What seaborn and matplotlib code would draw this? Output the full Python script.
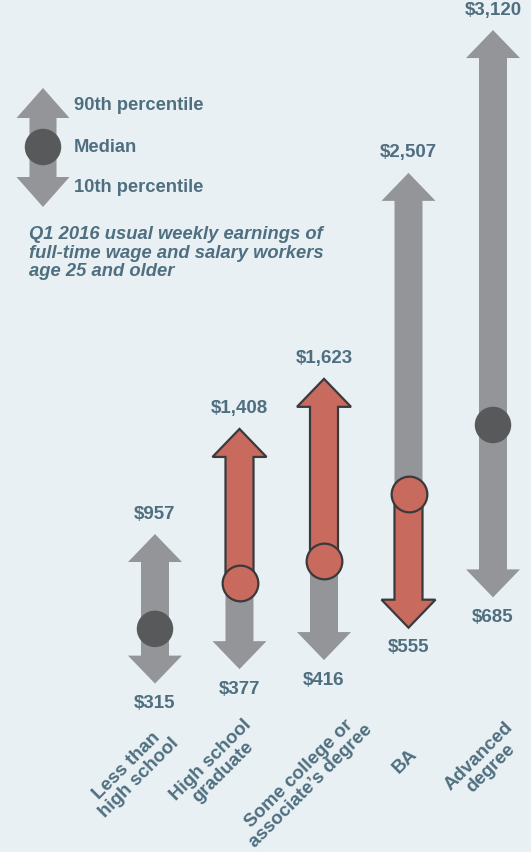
import numpy as np
import pandas as pd
import matplotlib
matplotlib.use("Agg")
import matplotlib.pyplot as plt
from matplotlib.patches import Polygon
import seaborn as sns

# ---------------- data ----------------
categories = ["Less than\nhigh school", "High school\ngraduate",
              "Some college or\nassociate\u2019s degree", "BA", "Advanced\ndegree"]
p10 = [315, 377, 416, 555, 685]
median = [550, 745, 840, 1130, 1425]
p90 = [957, 1408, 1623, 2507, 3120]
top_labels = ["$957", "$1,408", "$1,623", "$2,507", "$3,120"]
bottom_labels = ["$315", "$377", "$416", "$555", "$685"]
highlight = ["", "up", "up", "down", ""]

# ---------------- style / layout ----------------
BG = "#e8f0f4"
GRAY = "#949599"
DARK = "#58595b"
RED = "#c86a5e"
EDGE = "#3a3a3c"
TXT = "#4f6f80"
# centres (pixels from top-left) of the rotated category labels
label_centers_px = [(133, 772), (217, 766), (305, 780), (405, 761), (485, 762)]

sns.set_theme(style="white", rc={"axes.facecolor": BG, "figure.facecolor": BG})
plt.rcParams["font.family"] = ["Liberation Sans", "DejaVu Sans"]

W, H = 531, 852
fig = plt.figure(figsize=(W / 100, H / 100), dpi=100)
ax = fig.add_axes([0, 0, 1, 1])
ax.set_facecolor(BG)

# scale: pixel -> data
X0, DX = 155.0, 84.5          # pixel x of first category, spacing
Y0, PPV = 757.0, 0.233        # pixel y of value 0, pixels per dollar


def xd(px):
    return (px - X0) / DX


def yd(py):
    return (Y0 - py) / PPV


df = pd.DataFrame({"cat": categories, "pos": np.arange(len(categories)),
                   "lo": p10, "med": median, "hi": p90, "hl": highlight})

SW = 28 / DX
HW = 54 / DX
HL = 28 / PPV


def double_arrow(x, lo, hi, sw=SW, hw=HW, hl=HL):
    return [(x - sw / 2, lo + hl), (x - hw / 2, lo + hl), (x, lo), (x + hw / 2, lo + hl),
            (x + sw / 2, lo + hl), (x + sw / 2, hi - hl), (x + hw / 2, hi - hl), (x, hi),
            (x - hw / 2, hi - hl), (x - sw / 2, hi - hl)]


def up_arrow(x, start, hi):
    return [(x - SW / 2, start), (x + SW / 2, start), (x + SW / 2, hi - HL), (x + HW / 2, hi - HL),
            (x, hi), (x - HW / 2, hi - HL), (x - SW / 2, hi - HL)]


def down_arrow(x, start, lo):
    return [(x - SW / 2, start), (x + SW / 2, start), (x + SW / 2, lo + HL), (x + HW / 2, lo + HL),
            (x, lo), (x - HW / 2, lo + HL), (x - SW / 2, lo + HL)]


for _, r in df.iterrows():
    ax.add_patch(Polygon(double_arrow(r["pos"], r["lo"], r["hi"]), closed=True,
                         facecolor=GRAY, edgecolor="none", zorder=2))
    if r["hl"] == "up":
        ax.add_patch(Polygon(up_arrow(r["pos"], r["med"], r["hi"]), closed=True,
                             facecolor=RED, edgecolor=EDGE, linewidth=1.6,
                             joinstyle="miter", zorder=3))
    elif r["hl"] == "down":
        ax.add_patch(Polygon(down_arrow(r["pos"], r["med"], r["lo"]), closed=True,
                             facecolor=RED, edgecolor=EDGE, linewidth=1.6,
                             joinstyle="miter", zorder=3))

plain = df[df["hl"] == ""]
hot = df[df["hl"] != ""]
sns.scatterplot(data=plain, x="pos", y="med", ax=ax, s=690, color=DARK,
                edgecolor="none", linewidth=0, zorder=5, legend=False)
sns.scatterplot(data=hot, x="pos", y="med", ax=ax, s=660, color=RED,
                edgecolor=EDGE, linewidth=1.6, zorder=5, legend=False)
ax.set_xlim(xd(0), xd(W))
ax.set_ylim(yd(H), yd(0))
ax.axis("off")

# value labels
for i, r in df.iterrows():
    ax.annotate(top_labels[i], (r["pos"], r["hi"]), xytext=(0, 20), textcoords="offset pixels",
                ha="center", va="center", fontsize=13.5, fontweight="bold", color=TXT, zorder=6)
    ax.annotate(bottom_labels[i], (r["pos"], r["lo"]), xytext=(0, -20), textcoords="offset pixels",
                ha="center", va="center", fontsize=13.5, fontweight="bold", color=TXT, zorder=6)

# category labels (rotated)
for i, r in df.iterrows():
    cx, cy = label_centers_px[i]
    ax.text(xd(cx), yd(cy), r["cat"], rotation=45, rotation_mode="anchor",
            ha="center", va="center", multialignment="center",
            fontsize=13.5, fontweight="bold", color=TXT, linespacing=1.0)

# legend glyph
lx = xd(43)
ax.add_patch(Polygon(double_arrow(lx, yd(207), yd(88), sw=27 / DX, hw=53 / DX, hl=30 / PPV),
                     closed=True, facecolor=GRAY, edgecolor="none", zorder=2))
ax.scatter([lx], [yd(147)], s=690, color=DARK, edgecolor="none", zorder=5)
for txt, py in [("90th percentile", 106), ("Median", 147), ("10th percentile", 188)]:
    ax.text(xd(74), yd(py), txt, ha="left", va="center", fontsize=13.2,
            fontweight="bold", color=TXT)

ax.text(xd(29), yd(226),
        "Q1 2016 usual weekly earnings of\nfull-time wage and salary workers\nage 25 and older",
        ha="left", va="top", fontsize=13.2, fontweight="bold", fontstyle="italic",
        color=TXT, linespacing=1.12)

fig.savefig("out.png", dpi=100, facecolor=BG)
